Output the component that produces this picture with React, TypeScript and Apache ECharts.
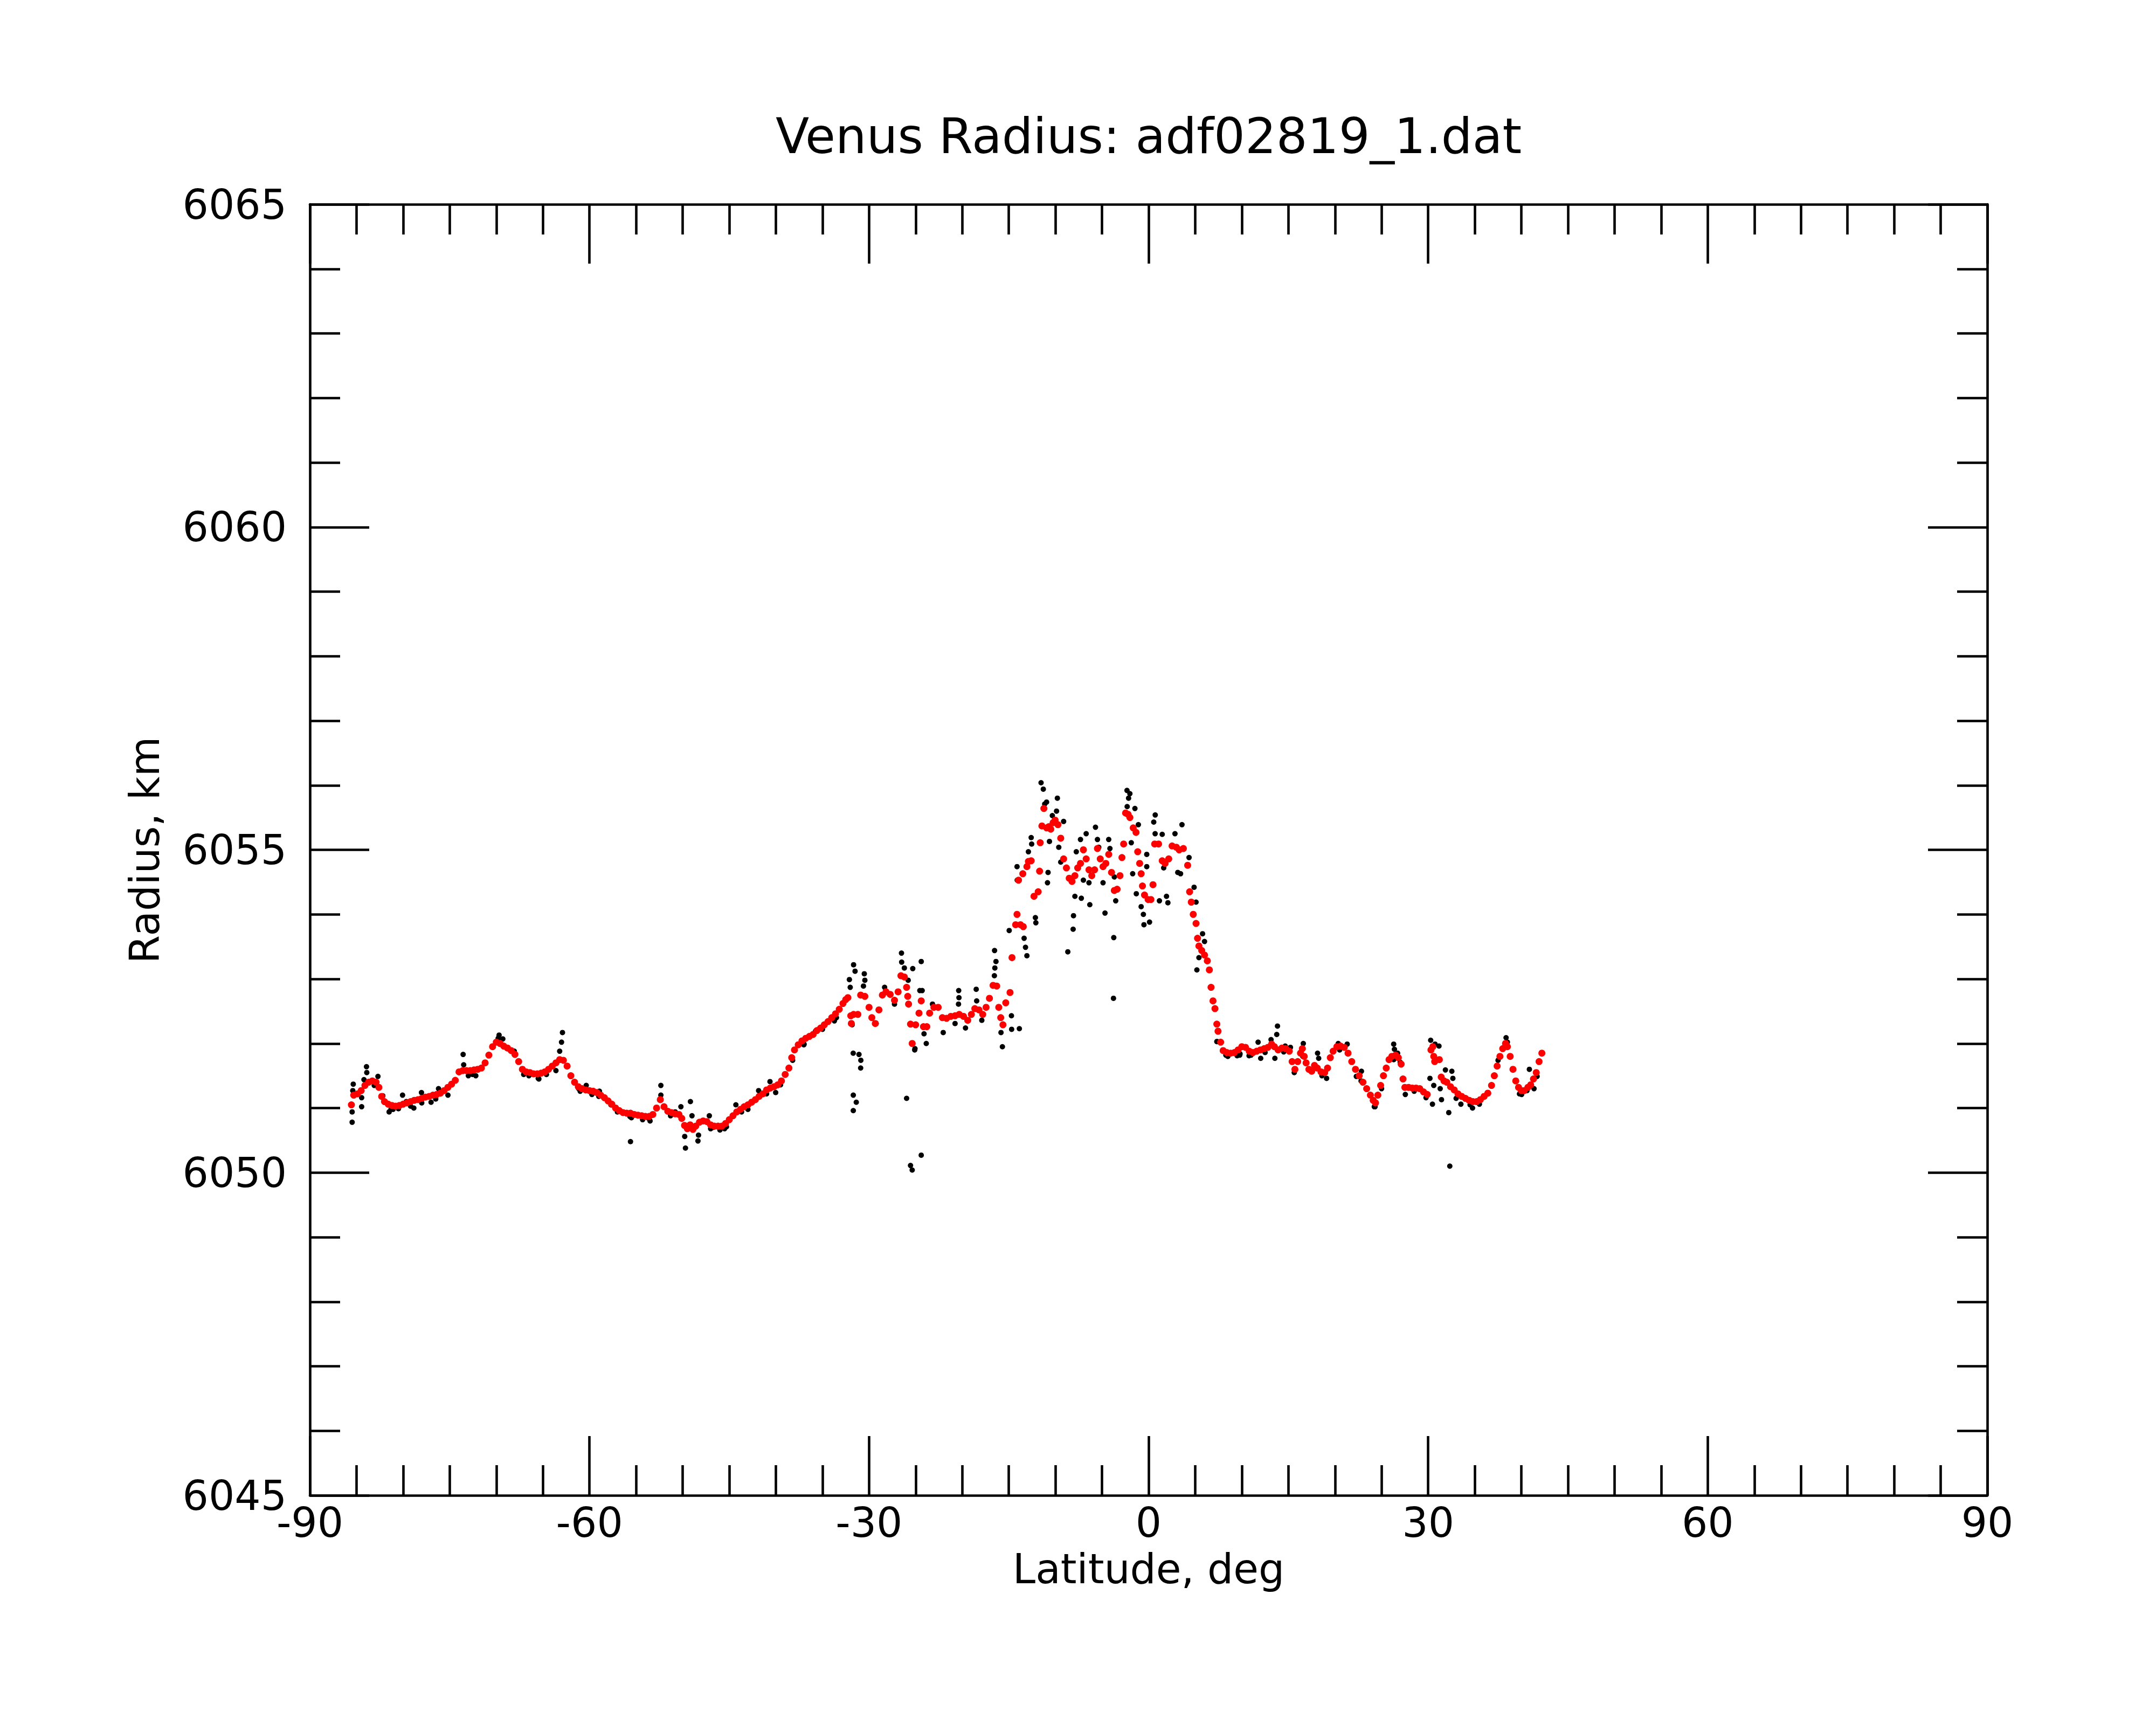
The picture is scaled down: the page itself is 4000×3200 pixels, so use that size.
import React, { useEffect, useRef } from "react";
import * as echarts from "echarts";

const titleText = "Venus Radius: adf02819_1.dat";
const xName = "Latitude, deg";
const yName = "Radius, km";
const xRange = [-90, 90];
const yRange = [6045, 6065];

// smoothed radius (red), southern part
const redSouth: [number, number][] = [
  [-85.55, 6051.05], [-85.3, 6051.2], [-84.9, 6051.22], [-84.5, 6051.27], [-84.1, 6051.35], [-83.7, 6051.4],
  [-83.3, 6051.42], [-82.9, 6051.4], [-82.6, 6051.32], [-82.3, 6051.18], [-82.0, 6051.1], [-81.6, 6051.06],
  [-81.2, 6051.04], [-80.8, 6051.03], [-80.4, 6051.04], [-80.0, 6051.06], [-79.6, 6051.08], [-79.2, 6051.1],
  [-78.8, 6051.12], [-78.4, 6051.13], [-78.0, 6051.15], [-77.6, 6051.17], [-77.2, 6051.18], [-76.8, 6051.2],
  [-76.4, 6051.21], [-76.0, 6051.23], [-75.6, 6051.27], [-75.2, 6051.32], [-74.8, 6051.37], [-74.4, 6051.43],
  [-74.0, 6051.56], [-73.6, 6051.58], [-73.2, 6051.58], [-72.8, 6051.58], [-72.4, 6051.59], [-72.0, 6051.6],
  [-71.6, 6051.62], [-71.2, 6051.7], [-70.8, 6051.82], [-70.4, 6051.95], [-70.0, 6052.02], [-69.6, 6052.0],
  [-69.2, 6051.96], [-68.8, 6051.93], [-68.4, 6051.89], [-68.0, 6051.83], [-67.6, 6051.72], [-67.2, 6051.6],
  [-66.8, 6051.56], [-66.4, 6051.55], [-66.0, 6051.53], [-65.6, 6051.53], [-65.2, 6051.54], [-64.8, 6051.56],
  [-64.4, 6051.6], [-64.0, 6051.65], [-63.6, 6051.7], [-63.2, 6051.75], [-62.8, 6051.74], [-62.4, 6051.65],
  [-62.0, 6051.5], [-61.6, 6051.4], [-61.2, 6051.33], [-60.8, 6051.3], [-60.4, 6051.28], [-60.0, 6051.27],
  [-59.6, 6051.26], [-59.2, 6051.24], [-58.8, 6051.2], [-58.4, 6051.16], [-58.0, 6051.11], [-57.6, 6051.06],
  [-57.2, 6051.0], [-56.8, 6050.96], [-56.4, 6050.93], [-56.0, 6050.92], [-55.6, 6050.92], [-55.2, 6050.9],
  [-54.8, 6050.89], [-54.4, 6050.88], [-54.0, 6050.87], [-53.6, 6050.87], [-53.2, 6050.9], [-52.8, 6051.0],
  [-52.4, 6051.13], [-52.0, 6051.02], [-51.6, 6050.95], [-51.2, 6050.93], [-50.8, 6050.91], [-50.4, 6050.9],
  [-50.1, 6050.84], [-49.8, 6050.73], [-49.5, 6050.68], [-49.2, 6050.74], [-48.9, 6050.67], [-48.6, 6050.72],
  [-48.2, 6050.78], [-47.8, 6050.8], [-47.4, 6050.79], [-47.0, 6050.74], [-46.6, 6050.72], [-46.2, 6050.72],
  [-45.8, 6050.72], [-45.4, 6050.76], [-45.0, 6050.82], [-44.6, 6050.88], [-44.2, 6050.94], [-43.8, 6050.98],
  [-43.4, 6051.02], [-43.0, 6051.05], [-42.6, 6051.09], [-42.2, 6051.13], [-41.8, 6051.18], [-41.4, 6051.22],
  [-41.0, 6051.28], [-40.6, 6051.31], [-40.2, 6051.33], [-39.8, 6051.36], [-39.4, 6051.42], [-39.0, 6051.52],
  [-38.6, 6051.62], [-38.3, 6051.78], [-38.0, 6051.9], [-37.6, 6051.98], [-37.2, 6052.04], [-36.8, 6052.08],
  [-36.4, 6052.11], [-36.0, 6052.14], [-35.6, 6052.2], [-35.2, 6052.24], [-34.8, 6052.29], [-34.4, 6052.34],
  [-34.0, 6052.4], [-33.6, 6052.46], [-33.2, 6052.53], [-32.8, 6052.62], [-32.5, 6052.68],
];

// smoothed radius (red), central highland
const redMid: [number, number][] = [
  [-32.27, 6052.71], [-31.96, 6052.43], [-31.9, 6052.31], [-31.66, 6052.45], [-31.2, 6052.45], [-30.9, 6052.75],
  [-30.45, 6052.73], [-30.0, 6052.56], [-29.7, 6052.4], [-29.33, 6052.31], [-28.94, 6052.52], [-28.57, 6052.75],
  [-28.18, 6052.8], [-27.73, 6052.76], [-27.27, 6052.67], [-26.88, 6052.8], [-26.58, 6053.05], [-26.21, 6053.03],
  [-25.97, 6052.87], [-25.85, 6052.73], [-25.76, 6052.61], [-25.55, 6052.3], [-25.37, 6052.0], [-25.0, 6052.29],
  [-24.64, 6052.47], [-24.4, 6052.66], [-24.16, 6052.26], [-23.8, 6052.26], [-23.5, 6052.47], [-23.04, 6052.56],
  [-22.58, 6052.56], [-22.13, 6052.4], [-21.68, 6052.39], [-21.22, 6052.42], [-20.77, 6052.43], [-20.32, 6052.45],
  [-19.86, 6052.42], [-19.41, 6052.36], [-19.02, 6052.45], [-18.65, 6052.54], [-18.2, 6052.52], [-17.8, 6052.45],
  [-17.44, 6052.56], [-17.08, 6052.7], [-16.69, 6052.9], [-16.3, 6052.89], [-16.08, 6052.56], [-15.87, 6052.4],
  [-15.63, 6052.29], [-15.33, 6052.63], [-14.87, 6052.79], [-14.66, 6053.33], [-14.27, 6053.84], [-14.12, 6054.0],
  [-13.75, 6053.84], [-13.45, 6053.81], [-13.96, 6054.53], [-13.5, 6054.63], [-13.06, 6054.74], [-12.9, 6054.82],
  [-12.6, 6054.83], [-12.3, 6054.28], [-11.85, 6054.35], [-11.7, 6054.67], [-11.63, 6055.11], [-11.45, 6055.37],
  [-11.24, 6055.64], [-10.94, 6055.34], [-10.7, 6055.36], [-10.5, 6055.32], [-10.25, 6055.42], [-10.03, 6055.46],
  [-9.73, 6055.39], [-9.43, 6055.18], [-9.12, 6054.86], [-8.82, 6054.72], [-8.52, 6054.56], [-8.22, 6054.51],
  [-7.91, 6054.6], [-7.61, 6054.72], [-7.31, 6054.79], [-7.0, 6055.0], [-6.7, 6054.86], [-6.4, 6054.69],
  [-6.1, 6054.6], [-5.8, 6054.69], [-5.49, 6055.02], [-5.19, 6054.86], [-4.89, 6054.74], [-4.59, 6054.79],
  [-4.28, 6054.93], [-3.98, 6054.65], [-3.68, 6054.37], [-3.38, 6054.39], [-3.07, 6054.6], [-2.86, 6054.88],
  [-2.68, 6055.09], [-2.47, 6055.57], [-2.2, 6055.55], [-2.01, 6055.5], [-1.65, 6055.34], [-1.35, 6055.27],
  [-1.17, 6054.97], [-0.96, 6054.79], [-0.8, 6054.63], [-0.66, 6054.44], [-0.44, 6054.3], [-0.05, 6054.23],
  [0.25, 6054.23], [0.47, 6054.46], [0.65, 6055.09], [1.07, 6055.09], [1.46, 6054.83], [1.77, 6054.79],
  [2.16, 6054.86], [2.52, 6055.06], [2.98, 6055.04], [3.28, 6055.0], [3.73, 6055.02], [4.19, 6054.76],
  [4.4, 6054.35], [4.58, 6054.19], [4.79, 6054.0], [5.09, 6053.86], [5.25, 6053.63], [5.4, 6053.51],
  [5.7, 6053.44], [6.0, 6053.37], [6.3, 6053.28], [6.52, 6053.14], [6.7, 6052.87], [6.91, 6052.66],
  [7.12, 6052.54],
];

// smoothed radius (red), northern plains
const redNorth: [number, number][] = [
  [7.32, 6052.3], [7.45, 6052.19], [7.73, 6052.02], [8.0, 6051.89], [8.4, 6051.86], [8.8, 6051.85],
  [9.2, 6051.86], [9.6, 6051.9], [10.0, 6051.95], [10.4, 6051.94], [10.8, 6051.88], [11.2, 6051.86],
  [11.6, 6051.88], [12.0, 6051.9], [12.4, 6051.92], [12.8, 6051.94], [13.2, 6051.99], [13.5, 6051.95],
  [13.9, 6051.9], [14.3, 6051.93], [14.7, 6051.92], [15.1, 6051.88], [15.4, 6051.72], [15.7, 6051.6],
  [16.0, 6051.72], [16.3, 6051.85], [16.5, 6051.92], [16.7, 6051.8], [16.9, 6051.7], [17.2, 6051.6],
  [17.5, 6051.57], [17.8, 6051.66], [18.1, 6051.62], [18.5, 6051.56], [18.9, 6051.55], [19.2, 6051.62],
  [19.5, 6051.78], [19.8, 6051.88], [20.2, 6051.95], [20.6, 6051.96], [21.0, 6051.94], [21.4, 6051.85],
  [21.8, 6051.72], [22.2, 6051.6], [22.6, 6051.5], [23.0, 6051.4], [23.4, 6051.3], [23.8, 6051.2],
  [24.1, 6051.12], [24.35, 6051.08], [24.6, 6051.2], [24.9, 6051.35], [25.2, 6051.5], [25.5, 6051.62],
  [25.8, 6051.75], [26.1, 6051.8], [26.5, 6051.82], [26.8, 6051.78], [27.1, 6051.68], [27.3, 6051.45],
  [27.5, 6051.32], [27.9, 6051.32], [28.3, 6051.31], [28.7, 6051.31], [29.1, 6051.3], [29.5, 6051.25],
  [29.9, 6051.21], [30.3, 6051.9], [30.5, 6051.95], [30.6, 6051.8], [30.7, 6051.72], [31.2, 6051.75],
  [31.4, 6051.48], [31.7, 6051.42], [32.0, 6051.4], [32.4, 6051.33], [32.8, 6051.28], [33.2, 6051.22],
  [33.6, 6051.18], [34.0, 6051.15], [34.4, 6051.12], [34.8, 6051.1], [35.2, 6051.1], [35.6, 6051.13],
  [36.0, 6051.18], [36.4, 6051.23], [36.8, 6051.35], [37.1, 6051.5], [37.4, 6051.65], [37.7, 6051.8],
  [38.0, 6051.92], [38.3, 6052.0], [38.5, 6051.95], [38.8, 6051.8], [39.1, 6051.6], [39.4, 6051.42],
  [39.7, 6051.32], [40.0, 6051.27], [40.3, 6051.27], [40.7, 6051.32], [41.0, 6051.36], [41.3, 6051.45],
  [41.6, 6051.55], [41.9, 6051.72], [42.2, 6051.85],
];

// raw radius samples (black), southern part
const blackSouth: [number, number][] = [
  [-85.35, 6051.37], [-85.4, 6051.27], [-85.47, 6050.94], [-85.47, 6050.78], [-84.45, 6051.16], [-84.45, 6051.02],
  [-83.93, 6051.64], [-83.9, 6051.55], [-84.2, 6051.44], [-83.1, 6051.35], [-82.7, 6051.49], [-82.18, 6051.19],
  [-81.5, 6050.94], [-81.08, 6050.98], [-80.06, 6051.2], [-79.66, 6051.1], [-78.85, 6051.0], [-78.03, 6051.24],
  [-77.0, 6051.09], [-76.2, 6051.3], [-75.19, 6051.2], [-73.56, 6051.83], [-73.5, 6051.67], [-72.55, 6051.52],
  [-72.2, 6051.5], [-69.7, 6052.13], [-69.3, 6052.07], [-68.07, 6051.88], [-67.06, 6051.52], [-65.43, 6051.45],
  [-64.62, 6051.52], [-63.6, 6051.58], [-63.2, 6051.88], [-63.0, 6052.02], [-62.9, 6052.17], [-61.16, 6051.3],
  [-60.35, 6051.35], [-59.74, 6051.21], [-58.93, 6051.26], [-57.7, 6051.05], [-55.67, 6050.87], [-55.6, 6050.48],
  [-53.64, 6050.84], [-52.34, 6051.35], [-52.34, 6051.2], [-50.8, 6050.94], [-50.19, 6051.02], [-49.78, 6050.56],
  [-49.7, 6050.38], [-49.17, 6051.1], [-49.0, 6050.88], [-48.36, 6050.49], [-48.3, 6050.58], [-47.14, 6050.88],
  [-46.73, 6050.7], [-45.3, 6050.71], [-44.29, 6051.05], [-43.68, 6050.94], [-41.85, 6051.27], [-40.63, 6051.41],
  [-40.02, 6051.24], [-38.2, 6051.74], [-36.97, 6051.99], [-35.75, 6052.19], [-33.72, 6052.35],
  [-81.3, 6050.98], [-80.5, 6050.99], [-79.2, 6051.03], [-78.0, 6051.08], [-76.5, 6051.14], [-73.0, 6051.5],
  [-69.8, 6052.08], [-66.5, 6051.5], [-65.5, 6051.46], [-61.0, 6051.26], [-59.0, 6051.18], [-57.0, 6050.94],
  [-55.5, 6050.85], [-54.3, 6050.82], [-53.5, 6050.8], [-51.3, 6050.88], [-47.0, 6050.68], [-46.0, 6050.66],
  [-45.5, 6050.68], [-43.0, 6050.98], [-41.0, 6051.22], [-39.5, 6051.36], [-37.0, 6051.98], [-35.0, 6052.22],
  [-33.5, 6052.4],
];

// raw radius samples (black), central highland
const blackMid: [number, number][] = [
  [-31.7, 6051.85], [-31.08, 6051.83], [-30.88, 6051.74], [-30.9, 6051.62], [-31.69, 6051.2], [-31.37, 6051.09],
  [-31.69, 6050.96], [-32.11, 6052.99], [-31.66, 6053.22], [-31.5, 6053.12], [-32.02, 6052.87], [-31.81, 6052.29],
  [-30.51, 6053.08], [-30.45, 6052.98], [-30.6, 6052.89], [-29.24, 6052.31], [-28.33, 6052.87], [-27.27, 6052.61],
  [-26.52, 6053.4], [-26.5, 6053.26], [-26.21, 6053.17], [-25.8, 6052.98], [-25.31, 6053.16], [-24.4, 6053.27],
  [-25.97, 6051.15], [-25.07, 6051.92], [-25.1, 6051.9], [-24.55, 6052.82], [-24.3, 6052.82], [-24.1, 6052.15],
  [-23.86, 6052.0], [-25.55, 6050.11], [-25.37, 6050.04], [-24.4, 6050.27], [-23.19, 6052.61], [-22.04, 6052.17],
  [-20.77, 6052.31], [-20.38, 6052.82], [-20.35, 6052.71], [-20.4, 6052.61], [-19.65, 6052.24], [-18.5, 6052.84],
  [-18.45, 6052.66], [-17.9, 6052.36], [-16.53, 6053.44], [-16.38, 6053.27], [-16.5, 6053.17], [-16.55, 6053.05],
  [-15.84, 6052.17], [-15.69, 6051.95], [-14.72, 6052.43], [-14.7, 6052.22], [-13.87, 6052.23], [-14.96, 6053.75],
  [-14.12, 6054.74], [-14.1, 6054.53], [-13.36, 6053.63], [-13.21, 6053.49], [-13.06, 6053.36], [-12.9, 6054.97],
  [-12.6, 6055.19], [-12.55, 6055.09], [-12.15, 6053.95], [-12.1, 6053.87], [-11.54, 6056.04], [-11.3, 6055.94],
  [-11.15, 6055.71], [-10.95, 6055.74], [-10.64, 6055.13], [-10.79, 6054.65], [-10.85, 6054.49], [-10.33, 6055.53],
  [-9.88, 6055.6], [-9.79, 6055.8], [-9.12, 6055.44], [-9.64, 6055.04], [-9.43, 6054.81], [-8.67, 6053.42],
  [-8.06, 6053.98], [-8.1, 6053.77], [-7.91, 6054.28], [-7.22, 6054.25], [-7.0, 6054.53], [-7.76, 6054.97],
  [-7.31, 6055.16], [-6.7, 6055.25], [-6.31, 6054.15], [-6.4, 6054.49], [-5.7, 6055.35], [-5.49, 6055.16],
  [-5.35, 6055.04], [-4.89, 6054.49], [-4.68, 6054.02], [-4.28, 6055.16], [-4.15, 6055.02], [-3.68, 6054.58],
  [-3.53, 6054.21], [-3.74, 6053.64], [-3.77, 6052.7], [-2.32, 6055.92], [-2.01, 6055.87], [-2.15, 6055.8],
  [-2.3, 6055.67], [-1.47, 6055.64], [-1.1, 6055.39], [-1.86, 6055.11], [-1.71, 6054.63], [-1.32, 6054.32],
  [-0.8, 6054.12], [-0.56, 6054.0], [-0.5, 6053.84], [0.1, 6053.88], [-0.2, 6054.93], [-0.2, 6054.74],
  [0.71, 6055.54], [0.55, 6055.43], [0.7, 6055.25], [1.46, 6055.24], [1.16, 6054.21], [1.92, 6054.28],
  [2.07, 6054.18], [1.62, 6054.72], [2.83, 6055.25], [3.58, 6055.39], [3.13, 6054.65], [3.43, 6054.63],
  [4.34, 6054.88], [4.88, 6054.42], [5.09, 6054.19], [5.79, 6053.7], [6.0, 6053.58], [5.4, 6053.33],
  [5.18, 6053.14], [7.36, 6052.03], [9.78, 6051.82],
];

// raw radius samples (black), northern plains
const blackNorth: [number, number][] = [
  [7.32, 6052.03], [8.29, 6051.82], [9.81, 6051.84], [10.78, 6051.81], [11.75, 6052.02], [12.03, 6051.77],
  [13.14, 6052.06], [13.55, 6051.77], [13.83, 6052.27], [13.75, 6052.14], [14.66, 6051.96], [15.22, 6051.94],
  [15.63, 6051.55], [16.6, 6052.0], [16.55, 6051.8], [17.57, 6051.57], [18.13, 6051.85], [18.25, 6051.77],
  [19.1, 6051.46], [20.35, 6052.0], [21.31, 6051.99], [22.29, 6051.49], [22.84, 6051.57], [24.22, 6051.02],
  [26.3, 6051.99], [26.38, 6051.91], [26.72, 6051.85], [27.0, 6051.71], [27.55, 6051.21], [29.77, 6051.16],
  [30.27, 6052.05], [30.74, 6051.99], [31.16, 6051.96], [30.19, 6051.46], [30.6, 6051.35], [31.29, 6051.3],
  [31.43, 6051.13], [31.85, 6051.59], [32.54, 6051.57], [32.65, 6051.46], [30.46, 6051.06], [32.21, 6050.93],
  [32.32, 6050.1], [33.51, 6051.06], [34.76, 6051.0], [38.36, 6052.09], [38.5, 6052.02], [40.03, 6051.21],
  [40.86, 6051.6], [41.36, 6051.3], [41.69, 6051.49],
  [8.5, 6051.8], [9.5, 6051.81], [11.0, 6051.82], [12.5, 6051.86], [14.5, 6051.87], [18.6, 6051.5],
  [20.5, 6051.9], [22.8, 6051.42], [24.3, 6051.02], [25.0, 6051.3], [26.3, 6051.75], [28.5, 6051.26],
  [33.0, 6051.15], [34.5, 6051.05], [35.5, 6051.06], [37.5, 6051.74], [39.8, 6051.22], [40.6, 6051.27],
];

const FONT = "DejaVu Sans";
const LW = 4.6;

function makeAxis(kind: "x" | "y", position: string, showLabel: boolean) {
  const isX = kind === "x";
  return {
    type: "value",
    position,
    min: isX ? xRange[0] : yRange[0],
    max: isX ? xRange[1] : yRange[1],
    interval: isX ? 30 : 5,
    axisLine: { show: true, onZero: false, lineStyle: { color: "#000", width: LW } },
    axisTick: { show: true, inside: true, length: 110, lineStyle: { color: "#000", width: LW } },
    minorTick: { show: true, splitNumber: isX ? 6 : 5, length: 56, lineStyle: { color: "#000", width: LW } },
    splitLine: { show: false },
    minorSplitLine: { show: false },
    axisLabel: {
      show: showLabel,
      fontSize: 76,
      fontFamily: FONT,
      color: "#000",
      margin: isX ? 12 : 43,
      formatter: (v: number) => String(v),
    },
  };
}

export default function App() {
  const ref = useRef<HTMLDivElement>(null);
  useEffect(() => {
    document.body.style.margin = "0";
    const chart = echarts.init(ref.current!, null, { renderer: "svg" });
    const scatter = (data: [number, number][], color: string, size: number) => ({
      type: "scatter",
      data,
      symbol: "circle",
      symbolSize: size,
      itemStyle: { color, opacity: 1 },
      silent: true,
      emphasis: { disabled: true },
      xAxisIndex: 0,
      yAxisIndex: 0,
    });
    chart.setOption({
      animation: false,
      backgroundColor: "#fff",
      grid: { left: 575, right: 313, top: 379, bottom: 426, containLabel: false },
      xAxis: [makeAxis("x", "bottom", true), makeAxis("x", "top", false)],
      yAxis: [makeAxis("y", "left", true), makeAxis("y", "right", false)],
      series: [
        scatter(blackSouth, "#000", 10),
        scatter(blackMid, "#000", 10),
        scatter(blackNorth, "#000", 10),
        scatter(redSouth, "#ff0000", 13),
        scatter(redMid, "#ff0000", 13),
        scatter(redNorth, "#ff0000", 13),
      ],
      graphic: [
        {
          type: "text",
          x: 2131,
          y: 252,
          style: { text: titleText, fontSize: 91, fontFamily: FONT, fill: "#000", align: "center", verticalAlign: "middle" },
        },
        {
          type: "text",
          x: 2131,
          y: 2910,
          style: { text: xName, fontSize: 76, fontFamily: FONT, fill: "#000", align: "center", verticalAlign: "middle" },
        },
        {
          type: "text",
          x: 268,
          y: 1577,
          rotation: Math.PI / 2,
          style: { text: yName, fontSize: 76, fontFamily: FONT, fill: "#000", align: "center", verticalAlign: "middle" },
        },
      ],
    });
    return () => chart.dispose();
  }, []);
  return <div ref={ref} style={{ width: 4000, height: 3200, background: "#fff" }} />;
}
